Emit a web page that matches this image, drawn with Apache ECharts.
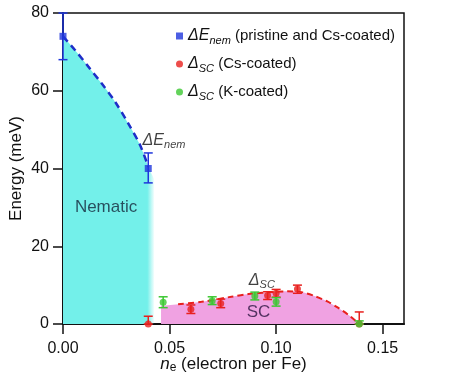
<!DOCTYPE html>
<html>
<head>
<meta charset="utf-8">
<script src="https://cdn.jsdelivr.net/npm/echarts@6/dist/echarts.min.js"></script>
<style>
  html, body { margin: 0; padding: 0; background: #fff; }
  #chart { width: 474px; height: 377px; }
</style>
</head>
<body>
<div id="chart"></div>
<script>
// axis ticks
const xTicks = [0, 0.05, 0.10, 0.15]
const yTicks = [0, 20, 40, 60, 80]

// measured points: [n_e, value, low, high]
const nemPoints = [[0, 74, 68, 80], [0.04, 40, 36.3, 44]]
const scCsPoints = [
  [0.04, 0, 0, 2], [0.06, 3.8, 2.7, 4.9], [0.074, 5.3, 4.2, 6.4],
  [0.096, 7.3, 6.3, 8.3], [0.10, 7.9, 6.9, 8.9], [0.11, 9.0, 7.9, 10.0],
  [0.139, 0, 0, 3.1]
]
const scKPoints = [
  [0.047, 5.6, 4.2, 7.0], [0.07, 6.0, 5.0, 7.0], [0.09, 7.2, 6.2, 8.2],
  [0.10, 5.7, 4.6, 6.8], [0.139, 0, 0, 0.8]
]

// dashed guide curves
const nemCurve = [
  [0, 74], [0.0056, 70.5], [0.0119, 66.2], [0.0181, 61.9], [0.0244, 57.2],
  [0.0306, 51.6], [0.0361, 46.1], [0.04, 40.5]
]
const nemFill = [...nemCurve, [0.043, 37]]
const scCurve = [
  [0.054, 5.1], [0.065, 5.7], [0.079, 7.0], [0.087, 7.7], [0.10, 8.3],
  [0.105, 8.4], [0.112, 8.2], [0.118, 7.2], [0.124, 5.8], [0.129, 4.2],
  [0.134, 2.3], [0.139, 0]
]
const scFill = [[0.046, 4.7], ...scCurve]

// text labels placed in data coordinates
const annotations = [
  [0.0474, 47.1, '{d|ΔE}{sub|nem}'],
  [0.0202, 29.9, '{n|Nematic}'],
  [0.0933, 11.3, '{d|Δ}{sub|SC}'],
  [0.0917, 2.9, '{sc|SC}']
]

const legendNames = {
  nem: '{d|ΔE}{sub|nem}{t| (pristine and Cs-coated)}',
  cs: '{d|Δ}{sub|SC}{t| (Cs-coated)}',
  k: '{d|Δ}{sub|SC}{t| (K-coated)}'
}

const BLUE = '#1f36dc'
const RED = '#e8201e'
const GREEN = '#3cc832'
const FONT = '"Liberation Sans", Arial, sans-serif'

const richText = {
  d: { fontSize: 16, fontStyle: 'italic', color: '#111', fontFamily: FONT, lineHeight: 20 },
  sub: { fontSize: 11, fontStyle: 'italic', color: '#111', fontFamily: FONT, verticalAlign: 'bottom', lineHeight: 12 },
  t: { fontSize: 15, color: '#111', fontFamily: FONT, lineHeight: 20 },
  n: { fontSize: 17, color: '#14263a', fontFamily: FONT },
  sc: { fontSize: 17, color: '#2a1440', fontFamily: FONT }
}

function errorBar(color) {
  return function (params, api) {
    const x = api.value(0)
    const lo = api.coord([x, api.value(2)])
    const hi = api.coord([x, api.value(3)])
    const w = 4.5
    const style = { stroke: color, lineWidth: 1.5 }
    return {
      type: 'group',
      children: [
        { type: 'line', shape: { x1: lo[0], y1: lo[1], x2: hi[0], y2: hi[1] }, style },
        { type: 'line', shape: { x1: lo[0] - w, y1: lo[1], x2: lo[0] + w, y2: lo[1] }, style },
        { type: 'line', shape: { x1: hi[0] - w, y1: hi[1], x2: hi[0] + w, y2: hi[1] }, style }
      ]
    }
  }
}

const chart = echarts.init(document.getElementById('chart'))

const option = {
  animation: false,
  textStyle: { fontFamily: FONT },
  grid: {
    left: 63, right: 70, top: 13, bottom: 53,
    outerBoundsMode: 'none',
    show: true, borderColor: '#111', borderWidth: 1.5
  },
  legend: {
    orient: 'vertical',
    left: 171, top: 23,
    itemWidth: 7, itemHeight: 7, itemGap: 10,
    data: [
      { name: 'nem', icon: 'rect' },
      { name: 'cs', icon: 'circle' },
      { name: 'k', icon: 'circle' }
    ],
    formatter: name => legendNames[name],
    textStyle: { rich: richText }
  },
  xAxis: {
    type: 'value',
    min: 0, max: 0.16, interval: 0.05,
    name: '{i|n}{s|e}{t| (electron per Fe)}',
    nameLocation: 'middle', nameGap: 30, nameMoveOverlap: false,
    nameTextStyle: {
      rich: {
        i: { fontSize: 17, fontStyle: 'italic', color: '#111', lineHeight: 20 },
        s: { fontSize: 12, color: '#111', verticalAlign: 'bottom', lineHeight: 12 },
        t: { fontSize: 17, color: '#111', lineHeight: 20 }
      }
    },
    axisLine: { lineStyle: { color: '#111', width: 2 } },
    axisTick: { length: 10, customValues: xTicks, lineStyle: { color: '#111', width: 1.5 } },
    axisLabel: {
      customValues: xTicks, margin: 17, fontSize: 16, color: '#111',
      formatter: v => v.toFixed(2)
    },
    splitLine: { show: false }
  },
  yAxis: {
    type: 'value',
    min: 0, max: 80, interval: 20,
    name: 'Energy (meV)',
    nameLocation: 'middle', nameGap: 38, nameMoveOverlap: false,
    nameTextStyle: { fontSize: 17, color: '#111' },
    axisLine: { lineStyle: { color: '#111', width: 2 } },
    axisTick: { length: 10, customValues: yTicks, lineStyle: { color: '#111', width: 1.5 } },
    axisLabel: { customValues: yTicks, margin: 14, fontSize: 16, color: '#111' },
    splitLine: { show: false }
  },
  series: [
    {
      name: 'nemFill', type: 'line', data: nemFill, smooth: 0.3,
      symbol: 'none', lineStyle: { width: 0 },
      areaStyle: {
        opacity: 1,
        color: new echarts.graphic.LinearGradient(0, 0, 1, 0, [
          { offset: 0, color: 'rgb(115, 240, 234)' },
          { offset: 0.92, color: 'rgb(115, 240, 234)' },
          { offset: 1, color: 'rgba(115, 240, 234, 0)' }
        ])
      },
      z: 1
    },
    {
      name: 'scFill', type: 'line', data: scFill, smooth: 0.3,
      symbol: 'none', lineStyle: { width: 0 },
      areaStyle: { opacity: 1, color: 'rgb(240, 162, 226)' },
      z: 1
    },
    {
      name: 'nemLine', type: 'line', data: nemCurve, smooth: 0.3,
      symbol: 'none', lineStyle: { color: '#1e2ec8', width: 2.5, type: [7, 5] },
      z: 2
    },
    {
      name: 'scLine', type: 'line', data: scCurve, smooth: 0.3,
      symbol: 'none', lineStyle: { color: RED, width: 2, type: [6, 4] },
      z: 2
    },
    { name: 'nemErr', type: 'custom', data: nemPoints, renderItem: errorBar(BLUE), encode: { x: 0, y: 1 }, z: 3 },
    { name: 'csErr', type: 'custom', data: scCsPoints, renderItem: errorBar(RED), encode: { x: 0, y: 1 }, z: 3 },
    { name: 'kErr', type: 'custom', data: scKPoints, renderItem: errorBar(GREEN), encode: { x: 0, y: 1 }, z: 3 },
    {
      name: 'nem', type: 'scatter', symbol: 'rect', symbolSize: 7,
      data: nemPoints.map(p => [p[0], p[1]]), itemStyle: { color: BLUE }, z: 4
    },
    {
      name: 'cs', type: 'scatter', symbol: 'circle', symbolSize: 7,
      data: scCsPoints.map(p => [p[0], p[1]]), itemStyle: { color: RED }, z: 4
    },
    {
      name: 'k', type: 'scatter', symbol: 'circle', symbolSize: 7,
      data: scKPoints.map(p => [p[0], p[1]]), itemStyle: { color: GREEN }, z: 5
    },
    {
      name: 'labels', type: 'scatter', symbolSize: 0, silent: true,
      data: annotations,
      label: {
        show: true, position: 'inside', color: '#111',
        textBorderWidth: 0,
        formatter: p => p.data[2],
        rich: richText
      },
      z: 6
    }
  ]
}

chart.setOption(option)
</script>
</body>
</html>
